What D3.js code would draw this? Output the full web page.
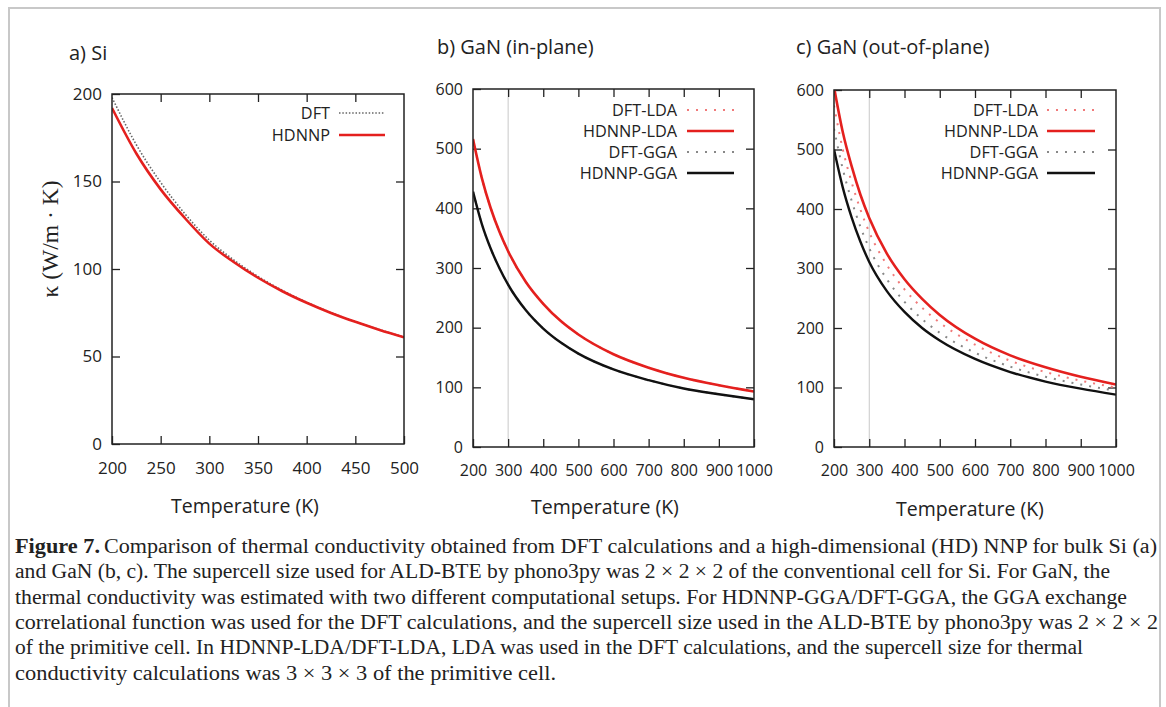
<!DOCTYPE html>
<html>
<head>
<meta charset="utf-8">
<script src="https://cdn.jsdelivr.net/npm/d3@7"></script>
<style>
  body { margin: 0; background: #fff; }
  text { fill: #222; }
</style>
</head>
<body>
<svg width="1166" height="707"></svg>
<script>
// values
const siT = [200, 225, 250, 275, 300, 325, 350, 375, 400, 425, 450, 475, 500];
const siDFT = [198, 171, 149.5, 131.5, 116.5, 105.2, 95.8, 87.8, 81, 75.1, 69.9, 65.3, 61.1];
const siHDNNP = [192, 166, 145.5, 129, 114.5, 104, 95, 87.3, 80.7, 74.9, 69.8, 65.2, 61];

const ganT = [200, 225, 250, 275, 300, 350, 400, 450, 500, 600, 700, 800, 900, 1000];
// b) in-plane
const inDFTLDA = [516, 451, 401, 361, 328, 277, 240, 211, 188.6, 155.5, 133, 116, 103.5, 93];
const inHDNNPLDA = [516, 451, 401, 361, 328, 277, 240, 211, 188.6, 155.5, 133, 116, 103.5, 93];
const inDFTGGA = [428, 374, 333, 300, 272, 229.5, 198.5, 175, 156.5, 130, 112, 98, 88.5, 80];
const inHDNNPGGA = [428, 374, 333, 300, 272, 229.5, 198.5, 175, 156.5, 130, 112, 98, 88.5, 80];
// c) out-of-plane
const outDFTLDA = [574, 500, 445, 399, 361, 306, 265, 234, 209, 172, 145, 126, 111.5, 100];
const outHDNNPLDA = [605, 529, 472, 424, 385, 325, 282, 249, 222, 182, 154, 134, 118, 105];
const outDFTGGA = [535, 467, 414, 370, 334, 282, 244, 215, 192, 158.5, 135, 118, 105, 94.5];
const outHDNNPGGA = [500, 436, 386, 345, 311, 262, 227, 200, 179, 148, 126, 110, 98, 88];

const siXTicks = [200, 250, 300, 350, 400, 450, 500];
const siYTicks = [0, 50, 100, 150, 200];
const ganXTicks = [200, 300, 400, 500, 600, 700, 800, 900, 1000];
const ganYTicks = [0, 100, 200, 300, 400, 500, 600];

const caption = [
  "Comparison of thermal conductivity obtained from DFT calculations and a high-dimensional (HD) NNP for bulk Si (a)",
  "and GaN (b, c). The supercell size used for ALD-BTE by phono3py was 2 \u00d7 2 \u00d7 2 of the conventional cell for Si. For GaN, the",
  "thermal conductivity was estimated with two different computational setups. For HDNNP-GGA/DFT-GGA, the GGA exchange",
  "correlational function was used for the DFT calculations, and the supercell size used in the ALD-BTE by phono3py was 2 \u00d7 2 \u00d7 2",
  "of the primitive cell. In HDNNP-LDA/DFT-LDA, LDA was used in the DFT calculations, and the supercell size for thermal",
  "conductivity calculations was 3 \u00d7 3 \u00d7 3 of the primitive cell."
];
const captionWidths = [1053, 1095, 1112, 1143, 1068, 541];

const RED = "#e4201e";
const styles = {
  siDFT: { stroke: "#666", width: 1.6, dash: "1.5,1.8" },
  solidRed: { stroke: RED, width: 2.6, dash: null },
  solidBlack: { stroke: "#111", width: 2.4, dash: null },
  dotRed: { stroke: "#f07a7a", width: 2, dash: "2,7" },
  dotGray: { stroke: "#888", width: 2, dash: "2,7" }
};

const svg = d3.select("svg");

// page frame
svg.append("rect")
  .attr("x", 9).attr("y", 8).attr("width", 1151).attr("height", 720)
  .attr("fill", "none").attr("stroke", "#c8c8c8").attr("stroke-width", 2);

const panels = [
  {
    id: "a", title: "a) Si", titleX: 69, titleY: 60,
    left: 112, right: 404, top: 94, bottom: 444,
    xDomain: [200, 500], yDomain: [0, 200], xTicks: siXTicks, yTicks: siYTicks,
    fontSize: 17, vline: null, T: siT,
    series: [
      { name: "DFT", vals: siDFT, style: styles.siDFT },
      { name: "HDNNP", vals: siHDNNP, style: styles.solidRed }
    ],
    legend: { textRight: 330, sx0: 339, sx1: 385, rows: [113, 135] },
    xlabelX: 245, xlabelY: 513
  },
  {
    id: "b", title: "b) GaN (in-plane)", titleX: 437, titleY: 54,
    left: 473, right: 754, top: 89, bottom: 447,
    xDomain: [200, 1000], yDomain: [0, 600], xTicks: ganXTicks, yTicks: ganYTicks,
    fontSize: 16, vline: 300, T: ganT,
    series: [
      { name: "DFT-LDA", vals: inDFTLDA, style: styles.dotRed },
      { name: "HDNNP-LDA", vals: inHDNNPLDA, style: styles.solidRed },
      { name: "DFT-GGA", vals: inDFTGGA, style: styles.dotGray },
      { name: "HDNNP-GGA", vals: inHDNNPGGA, style: styles.solidBlack }
    ],
    legend: { textRight: 677, sx0: 687, sx1: 734, rows: [110, 131, 152, 173] },
    xlabelX: 605, xlabelY: 514
  },
  {
    id: "c", title: "c) GaN (out-of-plane)", titleX: 796, titleY: 54,
    left: 834, right: 1116, top: 90, bottom: 447,
    xDomain: [200, 1000], yDomain: [0, 600], xTicks: ganXTicks, yTicks: ganYTicks,
    fontSize: 16, vline: 300, T: ganT,
    series: [
      { name: "DFT-LDA", vals: outDFTLDA, style: styles.dotRed },
      { name: "HDNNP-LDA", vals: outHDNNPLDA, style: styles.solidRed },
      { name: "DFT-GGA", vals: outDFTGGA, style: styles.dotGray },
      { name: "HDNNP-GGA", vals: outHDNNPGGA, style: styles.solidBlack }
    ],
    legend: { textRight: 1038, sx0: 1047, sx1: 1095, rows: [110, 131, 152, 173] },
    xlabelX: 970, xlabelY: 516
  }
];

const sans = "'Open Sans', 'Liberation Sans', sans-serif";

panels.forEach(p => {
  const x = d3.scaleLinear().domain(p.xDomain).range([p.left, p.right]);
  const y = d3.scaleLinear().domain(p.yDomain).range([p.bottom, p.top]);
  const g = svg.append("g");

  g.append("text").text(p.title)
    .attr("x", p.titleX).attr("y", p.titleY)
    .attr("font-family", sans).attr("font-size", 20);

  // clip to plot box
  g.append("clipPath").attr("id", "clip-" + p.id)
    .append("rect").attr("x", p.left).attr("y", p.top)
    .attr("width", p.right - p.left).attr("height", p.bottom - p.top);

  if (p.vline !== null) {
    g.append("line")
      .attr("x1", x(p.vline)).attr("x2", x(p.vline))
      .attr("y1", p.top).attr("y2", p.bottom)
      .attr("stroke", "#c8c8c8").attr("stroke-width", 1);
  }

  // inward ticks on all four sides
  const tl = 8;
  const axisStyle = sel => sel.call(s => s.select(".domain").remove())
    .selectAll(".tick line").attr("stroke", "#222").attr("stroke-width", 1.3);

  g.append("g").attr("transform", `translate(0,${p.bottom})`)
    .call(d3.axisBottom(x).tickValues(p.xTicks).tickSize(-tl).tickPadding(18).tickFormat(d3.format("d")))
    .call(axisStyle);
  g.append("g").attr("transform", `translate(0,${p.top})`)
    .call(d3.axisTop(x).tickValues(p.xTicks.slice(1, -1)).tickSize(-tl).tickFormat(""))
    .call(axisStyle);
  g.append("g").attr("transform", `translate(${p.left},0)`)
    .call(d3.axisLeft(y).tickValues(p.yTicks).tickSize(-tl).tickPadding(10).tickFormat(d3.format("d")))
    .call(axisStyle);
  g.append("g").attr("transform", `translate(${p.right},0)`)
    .call(d3.axisRight(y).tickValues(p.yTicks.slice(1, -1)).tickSize(-tl).tickFormat(""))
    .call(axisStyle);

  g.selectAll(".tick text")
    .attr("font-family", sans).attr("font-size", p.fontSize).attr("fill", "#222");

  // curves
  const line = d3.line()
    .x((d, i) => x(p.T[i]))
    .y(d => y(d))
    .curve(d3.curveMonotoneX);

  const curves = g.append("g").attr("clip-path", `url(#clip-${p.id})`);
  p.series.forEach(s => {
    curves.append("path")
      .attr("d", line(s.vals))
      .attr("fill", "none")
      .attr("stroke", s.style.stroke)
      .attr("stroke-width", s.style.width)
      .attr("stroke-dasharray", s.style.dash);
  });

  // frame
  g.append("rect")
    .attr("x", p.left).attr("y", p.top)
    .attr("width", p.right - p.left).attr("height", p.bottom - p.top)
    .attr("fill", "none").attr("stroke", "#222").attr("stroke-width", 1.5);

  // legend
  p.series.forEach((s, i) => {
    const ly = p.legend.rows[i];
    g.append("text").text(s.name)
      .attr("x", p.legend.textRight).attr("y", ly + 6)
      .attr("text-anchor", "end")
      .attr("font-family", sans).attr("font-size", 16.3);
    g.append("line")
      .attr("x1", p.legend.sx0).attr("x2", p.legend.sx1)
      .attr("y1", ly).attr("y2", ly)
      .attr("stroke", s.style.stroke)
      .attr("stroke-width", s.style.width)
      .attr("stroke-dasharray", s.style.dash);
  });

  g.append("text").text("Temperature (K)")
    .attr("x", p.xlabelX).attr("y", p.xlabelY)
    .attr("text-anchor", "middle")
    .attr("font-family", sans).attr("font-size", 19.5);
});

// y label of panel a
svg.append("text")
  .attr("transform", "translate(58,239) rotate(-90)")
  .attr("text-anchor", "middle")
  .attr("font-family", "'Liberation Serif', serif").attr("font-size", 23)
  .attr("textLength", 117).attr("lengthAdjust", "spacingAndGlyphs")
  .text("\u03ba (W/m \u00b7 K)");

// caption
const cap = svg.append("g").attr("font-family", "'Liberation Serif', 'DejaVu Serif', serif").attr("font-size", 20);
caption.forEach((c, i) => {
  cap.append("text")
    .attr("x", i === 0 ? 104 : 15)
    .attr("y", 553 + i * 25.3)
    .attr("textLength", captionWidths[i])
    .attr("lengthAdjust", "spacingAndGlyphs")
    .text(c);
});
cap.append("text").attr("x", 15).attr("y", 553)
  .attr("font-weight", "bold")
  .attr("textLength", 85).attr("lengthAdjust", "spacingAndGlyphs")
  .text("Figure 7.");
</script>
</body>
</html>
